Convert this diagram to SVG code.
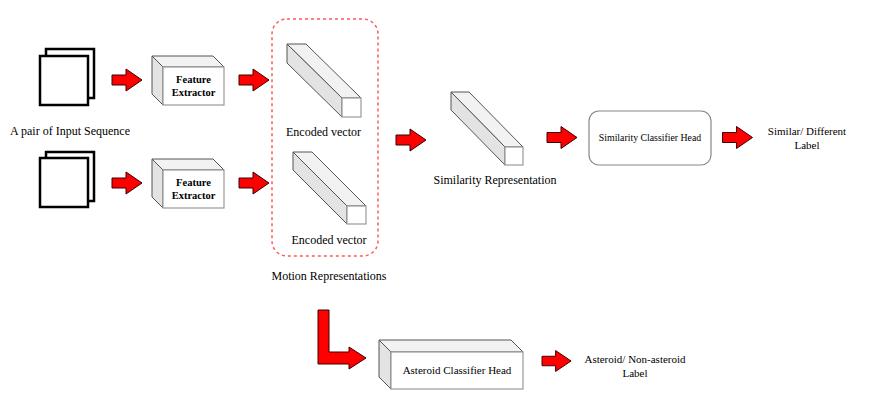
<svg xmlns="http://www.w3.org/2000/svg" width="884" height="411" viewBox="0 0 884 411">
<defs>
<style>
.t{font-family:"Liberation Serif","Times New Roman",serif;fill:#000;}
.doc{fill:#fff;stroke:#000;stroke-width:2.5;}
.top{fill:#f2f2f2;stroke:#555;stroke-width:1;}
.side{fill:#e3e3e3;stroke:#555;stroke-width:1;}
.front{fill:#fff;stroke:#999;stroke-width:1.2;}
.arr{fill:#ff0000;stroke:#3a0000;stroke-width:1;}
</style>
<path id="arrow" d="M0,-5 H14 V-11 L30,0 L14,11 V5 H0 Z"/>
</defs>
<rect width="884" height="411" fill="#fff"/>

<g id="input1">
<rect class="doc" x="46" y="49" width="48" height="49"/>
<rect class="doc" x="40" y="56" width="48" height="49"/>
</g>
<g id="input2">
<rect class="doc" x="46" y="152" width="48" height="49"/>
<rect class="doc" x="40" y="158" width="48" height="49"/>
</g>
<text class="t" x="70" y="135" font-size="12" text-anchor="middle">A pair of Input Sequence</text>

<g id="fe1">
<polygon class="top" points="152,56 213,56 224,67 163,67"/>
<polygon class="side" points="152,56 163,67 163,105 152,94"/>
<rect class="front" x="163" y="67" width="61" height="38"/>
<text class="t" x="193.5" y="82.5" font-size="10.5" font-weight="bold" text-anchor="middle">Feature</text>
<text class="t" x="193.5" y="96" font-size="10.5" font-weight="bold" text-anchor="middle">Extractor</text>
</g>
<g id="fe2">
<polygon class="top" points="152,159 213,159 224,170 163,170"/>
<polygon class="side" points="152,159 163,170 163,208 152,197"/>
<rect class="front" x="163" y="170" width="61" height="38"/>
<text class="t" x="193.5" y="185.5" font-size="10.5" font-weight="bold" text-anchor="middle">Feature</text>
<text class="t" x="193.5" y="199" font-size="10.5" font-weight="bold" text-anchor="middle">Extractor</text>
</g>

<g id="motion">
<rect x="272" y="19" width="106" height="237" rx="15" fill="none" stroke="#ff5b5b" stroke-width="1.5" stroke-dasharray="3,3"/>
<text class="t" x="329" y="280" font-size="12" text-anchor="middle">Motion Representations</text>
</g>
<g id="enc1">
<polygon class="top" points="287,44 306,44 361,98 342,98"/>
<polygon class="side" points="287,44 342,98 342,117 287,63"/>
<rect class="front" x="342" y="98" width="19" height="19"/>
<text class="t" x="323.5" y="136" font-size="12" text-anchor="middle">Encoded vector</text>
</g>
<g id="enc2">
<polygon class="top" points="293,152 312,152 366,206 347,206"/>
<polygon class="side" points="293,152 347,206 347,224 293,170"/>
<rect class="front" x="347" y="206" width="19" height="18"/>
<text class="t" x="329" y="244" font-size="12" text-anchor="middle">Encoded vector</text>
</g>

<g id="simrep">
<polygon class="top" points="451,92 469,92 523,147 505,147"/>
<polygon class="side" points="451,92 505,147 505,165 451,110"/>
<rect class="front" x="505" y="147" width="18" height="18"/>
<text class="t" x="495" y="184" font-size="12" text-anchor="middle">Similarity Representation</text>
</g>

<g id="simhead">
<rect x="589" y="111" width="122" height="54" rx="10" fill="#fff" stroke="#888" stroke-width="1.2"/>
<text class="t" x="650" y="141" font-size="9.8" text-anchor="middle">Similarity Classifier Head</text>
</g>

<g id="simlabel">
<text class="t" x="807" y="134.5" font-size="11" text-anchor="middle">Similar/ Different</text>
<text class="t" x="807" y="148.5" font-size="11" text-anchor="middle">Label</text>
</g>

<g id="asthead">
<polygon class="top" points="379,340 511,340 523,352 391,352"/>
<polygon class="side" points="379,340 391,352 391,389 379,377"/>
<rect class="front" x="391" y="352" width="132" height="37"/>
<text class="t" x="457" y="374" font-size="11" text-anchor="middle">Asteroid Classifier Head</text>
</g>

<g id="astlabel">
<text class="t" x="635" y="363" font-size="11" text-anchor="middle">Asteroid/ Non-asteroid</text>
<text class="t" x="635" y="377" font-size="11" text-anchor="middle">Label</text>
</g>

<g id="connectors">
<use href="#arrow" class="arr" transform="translate(112,80)"/>
<use href="#arrow" class="arr" transform="translate(112,183)"/>
<use href="#arrow" class="arr" transform="translate(239,80)"/>
<use href="#arrow" class="arr" transform="translate(239,183)"/>
<use href="#arrow" class="arr" transform="translate(396,140)"/>
<use href="#arrow" class="arr" transform="translate(547,137.5)"/>
<use href="#arrow" class="arr" transform="translate(722.5,137.5)"/>
<use href="#arrow" class="arr" transform="translate(542,361) scale(0.97,0.95)"/>
<path class="arr" d="M318,310 H329 V352 H349 V347 L366,358 L349,369 V364 H318 Z"/>
</g>
</svg>
